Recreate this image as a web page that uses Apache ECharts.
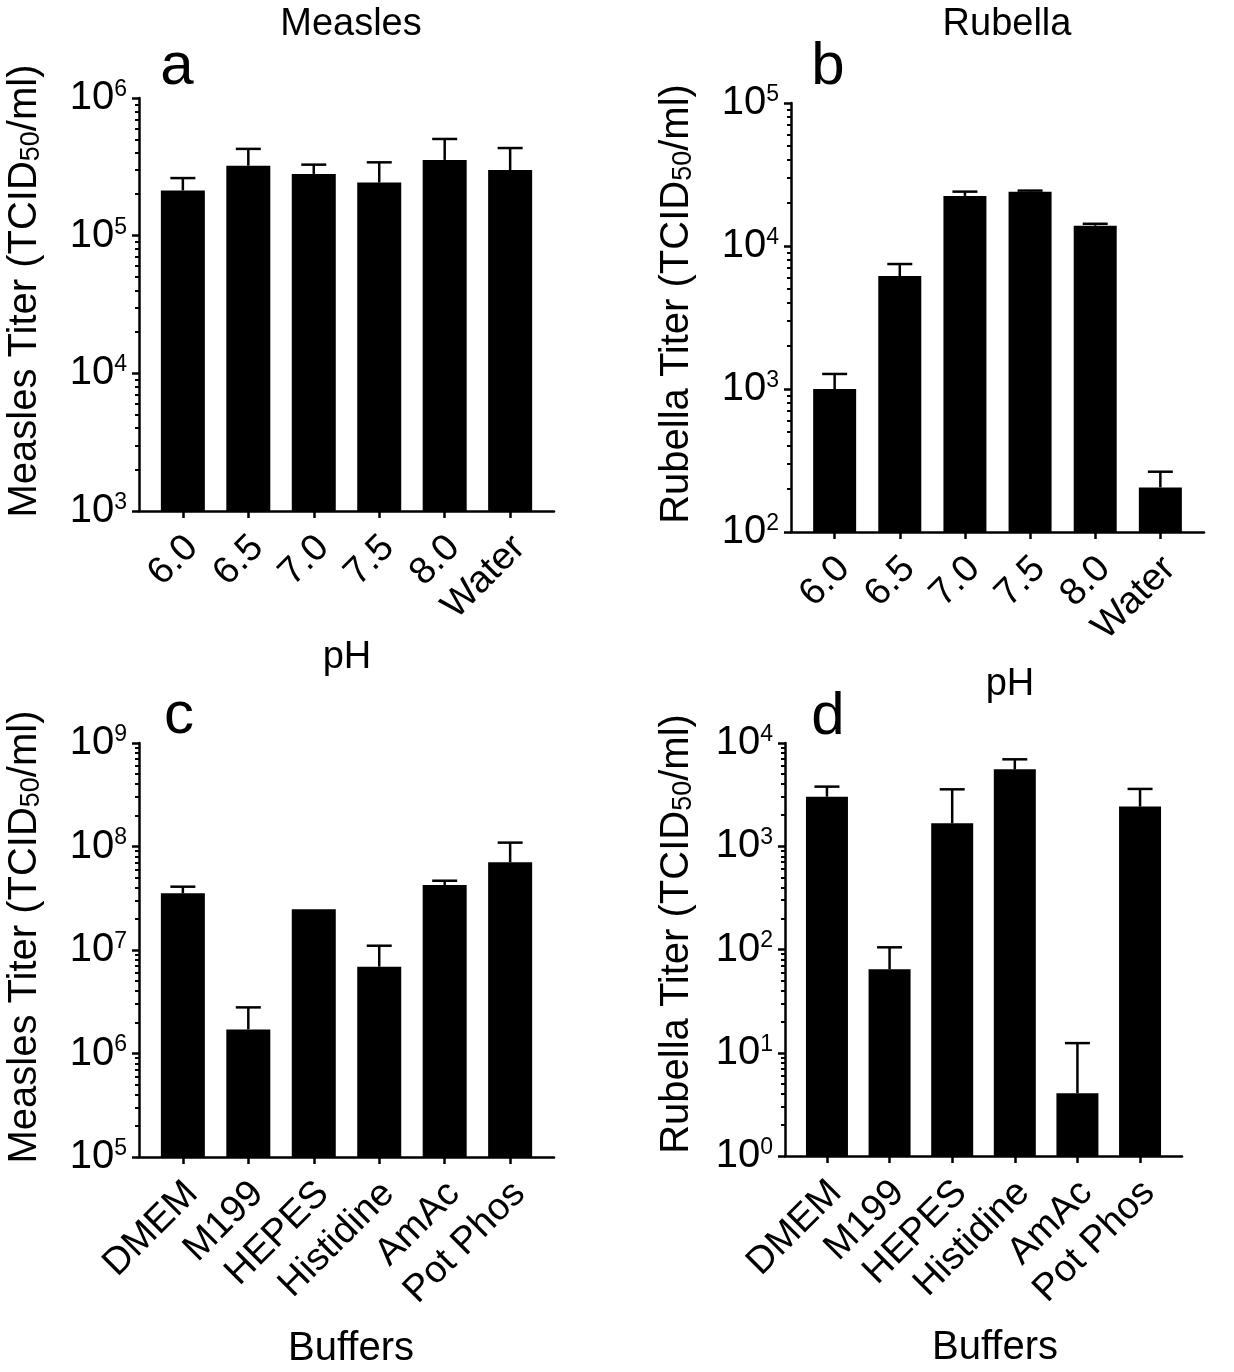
<!DOCTYPE html>
<html>
<head>
<meta charset="utf-8">
<script src="https://cdn.jsdelivr.net/npm/echarts@6/dist/echarts.min.js"></script>
<style>
html,body{margin:0;padding:0;background:#fff;}
#chart{width:1234px;height:1372px;}
</style>
</head>
<body>
<div id="chart"></div>
<script>
// ---------- data ----------
const catsPH = ['6.0', '6.5', '7.0', '7.5', '8.0', 'Water'];
const catsBuf = ['DMEM', 'M199', 'HEPES', 'Histidine', 'AmAc', 'Pot Phos'];

const measlesPH      = [2.13e5, 3.22e5, 2.81e5, 2.43e5, 3.55e5, 3.0e5];
const measlesPHUpper = [2.62e5, 4.27e5, 3.28e5, 3.41e5, 5.04e5, 4.33e5];

const rubellaPH      = [1000, 6170, 22400, 24000, 13870, 205];
const rubellaPHUpper = [1274, 7480, 24000, 24400, 14300, 264];

const measlesBuf      = [3.53e7, 1.71e6, 2.47e7, 6.9e6, 4.25e7, 7.03e7];
const measlesBufUpper = [4.09e7, 2.79e6, 2.47e7, 1.10e7, 4.67e7, 1.09e8];

const rubellaBuf      = [3020, 64.4, 1670, 5560, 4.06, 2420];
const rubellaBufUpper = [3780, 105, 3560, 6950, 12.4, 3590];

const yTicksA = [1e3, 1e4, 1e5, 1e6];
const yTicksB = [1e2, 1e3, 1e4, 1e5];
const yTicksC = [1e5, 1e6, 1e7, 1e8, 1e9];
const yTicksD = [1e0, 1e1, 1e2, 1e3, 1e4];

// ---------- helpers ----------
const FONT = 'Liberation Sans';
const BLACK = '#000';
const LABEL_SHIFT = 0.14; // rotated tick labels sit slightly right of their tick

function minorTicks(ticks) {
  const out = [];
  for (let i = 0; i < ticks.length - 1; i++) {
    for (let k = 2; k <= 9; k++) out.push(ticks[i] * k);
  }
  return out;
}

const panels = [
  { cats: catsPH,  vals: measlesPH,  upper: measlesPHUpper,  ticks: yTicksA, grid: {left: 139, top: 98,  width: 415, height: 413}, barW: 44 },
  { cats: catsPH,  vals: rubellaPH,  upper: rubellaPHUpper,  ticks: yTicksB, grid: {left: 791, top: 103, width: 413, height: 429}, barW: 43 },
  { cats: catsBuf, vals: measlesBuf, upper: measlesBufUpper, ticks: yTicksC, grid: {left: 139, top: 743, width: 415, height: 414}, barW: 44 },
  { cats: catsBuf, vals: rubellaBuf, upper: rubellaBufUpper, ticks: yTicksD, grid: {left: 785, top: 743, width: 397, height: 413}, barW: 42 }
];

const grids = [], xAxes = [], yAxes = [], series = [];

panels.forEach((p, gi) => {
  grids.push(Object.assign({containLabel: false}, p.grid));
  const idx = p.cats.map((_, i) => i);
  xAxes.push({
    type: 'value', gridIndex: gi, min: -0.67, max: 5.67, position: 'bottom',
    splitLine: {show: false},
    axisLine: {show: true, onZero: false, lineStyle: {color: BLACK, width: 2.5}},
    axisTick: {show: true, length: 7, lineStyle: {color: BLACK, width: 2.5}, customValues: idx},
    axisLabel: {
      show: true, customValues: idx.map(i => i + LABEL_SHIFT), rotate: 45, margin: 31,
      showMinLabel: true, showMaxLabel: true, hideOverlap: false,
      color: BLACK, fontFamily: FONT, fontSize: 38,
      formatter: v => p.cats[Math.round(v)]
    }
  });
  const yMin = p.ticks[0], yMax = p.ticks[p.ticks.length - 1];
  yAxes.push({
    type: 'log', gridIndex: gi, min: yMin, max: yMax, logBase: 10, position: 'left',
    splitLine: {show: false},
    axisLine: {show: true, onZero: false, lineStyle: {color: BLACK, width: 2.5}},
    axisTick: {show: true, length: 7, lineStyle: {color: BLACK, width: 2.5}, customValues: p.ticks},
    axisLabel: {
      show: true, customValues: p.ticks, margin: 12,
      showMinLabel: true, showMaxLabel: true,
      formatter: v => '{b|10}{s|' + Math.round(Math.log10(v)) + '}',
      rich: {
        b: {fontFamily: FONT, fontSize: 40, color: BLACK, lineHeight: 40, verticalAlign: 'bottom'},
        s: {fontFamily: FONT, fontSize: 23, color: BLACK, lineHeight: 22, verticalAlign: 'top'}
      }
    }
  });
  yAxes.push({
    type: 'log', gridIndex: gi, min: yMin, max: yMax, logBase: 10, position: 'left',
    splitLine: {show: false},
    axisLine: {show: false, onZero: false},
    axisTick: {show: true, length: 4, lineStyle: {color: BLACK, width: 2}, customValues: minorTicks(p.ticks)},
    axisLabel: {show: false}
  });
  const data = p.vals.map((v, i) => [i, v, p.upper[i]]);
  // bars
  series.push({
    type: 'custom', xAxisIndex: gi, yAxisIndex: gi * 2,
    data: data, encode: {x: 0, y: 1},
    renderItem: (params, api) => {
      const x = api.value(0), y = api.value(1);
      const top = api.coord([x, y]);
      const bot = api.coord([x, yMin]);
      return {type: 'rect', shape: {x: top[0] - p.barW / 2, y: top[1], width: p.barW, height: bot[1] - top[1]}, style: {fill: BLACK}};
    }
  });
  // upper error bars
  series.push({
    type: 'custom', xAxisIndex: gi, yAxisIndex: gi * 2,
    data: data, encode: {x: 0, y: [1, 2]}, z: 3,
    renderItem: (params, api) => {
      const x = api.value(0), y = api.value(1), u = api.value(2);
      if (!(u > y)) return null;
      const m = api.coord([x, y]);
      const t = api.coord([x, u]);
      const hw = 12.5;
      return {type: 'group', children: [
        {type: 'line', shape: {x1: m[0], y1: m[1], x2: t[0], y2: t[1]}, style: {stroke: BLACK, lineWidth: 2.5}},
        {type: 'line', shape: {x1: t[0] - hw, y1: t[1], x2: t[0] + hw, y2: t[1]}, style: {stroke: BLACK, lineWidth: 2.5}}
      ]};
    }
  });
});

function txt(text, x, y, size, extra) {
  return Object.assign({
    type: 'text', x: x, y: y,
    style: {text: text, fontFamily: FONT, fontSize: size, fill: BLACK, align: 'center', verticalAlign: 'middle'}
  }, extra || {});
}
function ytitle(name, x, y) {
  return {
    type: 'text', x: x, y: y, rotation: Math.PI / 2,
    style: {
      text: '{n|' + name + ' Titer (TCID}{sub|50}{n|/ml)}',
      align: 'center', verticalAlign: 'middle',
      rich: {
        n: {fontFamily: FONT, fontSize: 40, fill: BLACK, color: BLACK, lineHeight: 40, verticalAlign: 'top'},
        sub: {fontFamily: FONT, fontSize: 27, fill: BLACK, color: BLACK, lineHeight: 27, verticalAlign: 'bottom'}
      }
    }
  };
}

const graphics = [
  txt('Measles', 351, 25, 38),
  txt('Rubella', 1007, 25, 38),
  txt('a', 177, 67, 60),
  txt('b', 828, 67, 60),
  txt('c', 179, 716, 60),
  txt('d', 828, 717, 60),
  txt('pH', 347, 658, 38),
  txt('pH', 1010, 685, 38),
  txt('Buffers', 351, 1349, 40),
  txt('Buffers', 995, 1348, 40),
  ytitle('Measles', 25, 291),
  ytitle('Rubella', 677, 304),
  ytitle('Measles', 25, 937),
  ytitle('Rubella', 677, 934)
];

const chart = echarts.init(document.getElementById('chart'), null, {renderer: 'canvas'});
chart.setOption({
  backgroundColor: '#fff',
  animation: false,
  grid: grids,
  xAxis: xAxes,
  yAxis: yAxes,
  series: series,
  graphic: graphics
});
</script>
</body>
</html>
